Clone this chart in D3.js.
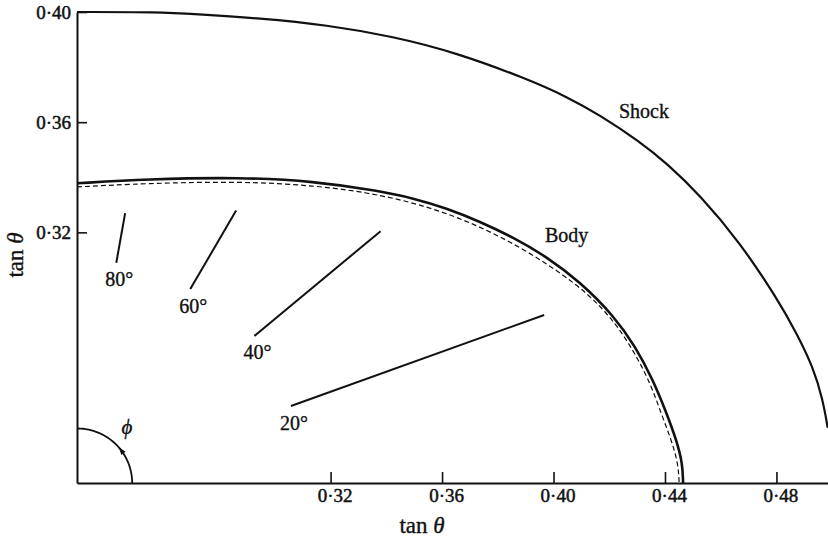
<!DOCTYPE html>
<html>
<head>
<meta charset="utf-8">
<script src="https://cdn.jsdelivr.net/npm/d3@7"></script>
<style>
  html, body { margin: 0; padding: 0; background: #fff; }
  svg { display: block; }
  text { font-family: "Liberation Serif", "Times New Roman", serif; fill: #111; stroke: #111; stroke-width: 0.35px; }
</style>
</head>
<body>
<svg id="chart" width="828" height="538"></svg>
<script>
// Axis ticks (tan θ)
const xTicks = [0.32, 0.36, 0.40, 0.44, 0.48];
const yTicks = [0.32, 0.36, 0.40];

// Shock wave trace [tan θ (horizontal), tan θ (vertical)]
const shock = [
  [0.2290, 0.4000], [0.2588, 0.4000], [0.2707, 0.3993], [0.2947, 0.3977],
  [0.3186, 0.3953], [0.3425, 0.3911], [0.3652, 0.3852], [0.3903, 0.3758],
  [0.4047, 0.3693], [0.4166, 0.3626], [0.4310, 0.3529], [0.4406, 0.3451],
  [0.4525, 0.3336], [0.4668, 0.3165], [0.4806, 0.2954], [0.4872, 0.2834],
  [0.4931, 0.2712], [0.4967, 0.2591], [0.4984, 0.2490]
];

// Body contour
const body = [
  [0.2290, 0.3378], [0.2540, 0.3393], [0.2875, 0.3400], [0.3138, 0.3386],
  [0.3377, 0.3350], [0.3496, 0.3324], [0.3616, 0.3288], [0.3736, 0.3239],
  [0.3855, 0.3182], [0.3975, 0.3112], [0.4094, 0.3021], [0.4214, 0.2900],
  [0.4295, 0.2784], [0.4357, 0.2664], [0.4406, 0.2543], [0.4441, 0.2446],
  [0.4463, 0.2362], [0.4465, 0.2290]
];

// Second (dashed) body contour
const bodyDashed = [
  [0.2290, 0.3365], [0.2540, 0.3378], [0.2875, 0.3385], [0.3138, 0.3371],
  [0.3377, 0.3339], [0.3616, 0.3275], [0.3855, 0.3166], [0.4094, 0.3009],
  [0.4214, 0.2884], [0.4288, 0.2769], [0.4348, 0.2652], [0.4386, 0.2543],
  [0.4423, 0.2446], [0.4447, 0.2362], [0.4451, 0.2290]
];

// Radial segments: angle φ (degrees) and radial extent from the axis corner
const rayPhi = [80, 60, 40, 20];
const rayR0  = [0.0812, 0.0813, 0.0831, 0.0817];
const rayR1  = [0.0995, 0.1142, 0.1422, 0.1784];

// Corner of the section and radius of the φ arc
const origin = [0.229, 0.229];
const arcR = 0.0198;

const svg = d3.select("#chart");
const x = d3.scaleLinear().domain([0.229, 0.4985]).range([77, 828]);
const y = d3.scaleLinear().domain([0.229, 0.40]).range([483, 12]);
const fmt = d => "0·" + d3.format(".2f")(d).split(".")[1];

// Axes with inward ticks
const gx = svg.append("g").attr("transform", `translate(0,${y(origin[1])})`)
  .call(d3.axisBottom(x).tickValues(xTicks).tickSizeInner(-11).tickSizeOuter(0)
        .tickPadding(6).tickFormat(fmt));
const gy = svg.append("g").attr("transform", `translate(${x(origin[0])},0)`)
  .call(d3.axisLeft(y).tickValues(yTicks).tickSizeInner(-10).tickSizeOuter(0)
        .tickPadding(6).tickFormat(fmt));
[gx, gy].forEach(g => {
  g.select(".domain").attr("stroke", "#111").attr("stroke-width", 2);
  g.selectAll(".tick line").attr("stroke", "#111").attr("stroke-width", 1.6);
  g.selectAll(".tick text").attr("font-size", 19)
    .attr("font-family", "'Liberation Serif', serif").attr("fill", "#111")
    .style("stroke-width", "0.5px");
});
gx.selectAll(".tick text").attr("dx", 4);

// Axis titles
const xt = svg.append("text").attr("x", 422).attr("y", 533)
  .attr("text-anchor", "middle").attr("font-size", 23);
xt.append("tspan").text("tan ");
xt.append("tspan").attr("font-style", "italic").text("θ");
const yt = svg.append("text").attr("transform", "translate(23,255) rotate(-90)")
  .attr("text-anchor", "middle").attr("font-size", 23);
yt.append("tspan").text("tan ");
yt.append("tspan").attr("font-style", "italic").text("θ");

const line = d3.line().x(d => x(d[0])).y(d => y(d[1])).curve(d3.curveBasis);

svg.append("path").datum(shock).attr("d", line)
  .attr("fill", "none").attr("stroke", "#111").attr("stroke-width", 2.2);
svg.append("path").datum(body).attr("d", line)
  .attr("fill", "none").attr("stroke", "#111").attr("stroke-width", 2.6);
svg.append("path").datum(bodyDashed).attr("d", line)
  .attr("fill", "none").attr("stroke", "#111").attr("stroke-width", 1.2)
  .attr("stroke-dasharray", "5,3");

svg.append("text").attr("x", 619).attr("y", 118).attr("font-size", 20).text("Shock");
svg.append("text").attr("x", 545).attr("y", 242).attr("font-size", 20).text("Body");

// Radial segments and their φ labels
const polar = (phi, r) => {
  const a = phi * Math.PI / 180;
  return [origin[0] + r * Math.cos(a), origin[1] + r * Math.sin(a)];
};
rayPhi.forEach((phi, i) => {
  const p0 = polar(phi, rayR0[i]), p1 = polar(phi, rayR1[i]);
  svg.append("line")
    .attr("x1", x(p0[0])).attr("y1", y(p0[1]))
    .attr("x2", x(p1[0])).attr("y2", y(p1[1]))
    .attr("stroke", "#111").attr("stroke-width", 2);
  svg.append("text").attr("x", x(p0[0]) + 3).attr("y", y(p0[1]) + 23.5)
    .attr("text-anchor", "middle").attr("font-size", 20).text(phi + "°");
});

// Arc showing the meridian angle φ
const arcPts = d3.range(0, 90.01, 1.5).map(a => polar(a, arcR));
svg.append("path").datum(arcPts).attr("d", d3.line().x(d => x(d[0])).y(d => y(d[1])))
  .attr("fill", "none").attr("stroke", "#111").attr("stroke-width", 1.8);
const tipA = 37;
const pm = polar(tipA, arcR);
const cx = x(pm[0]), cy = y(pm[1]);
svg.append("path")
  .attr("d", "M4,0 L-4,-2.6 L-4,2.6 Z")
  .attr("transform", `translate(${cx},${cy}) rotate(${-(tipA + 90)})`)
  .attr("fill", "#111");
svg.append("text").attr("x", 127).attr("y", 434).attr("text-anchor", "middle")
  .attr("font-size", 21).attr("font-style", "italic").text("ϕ");
</script>
</body>
</html>
